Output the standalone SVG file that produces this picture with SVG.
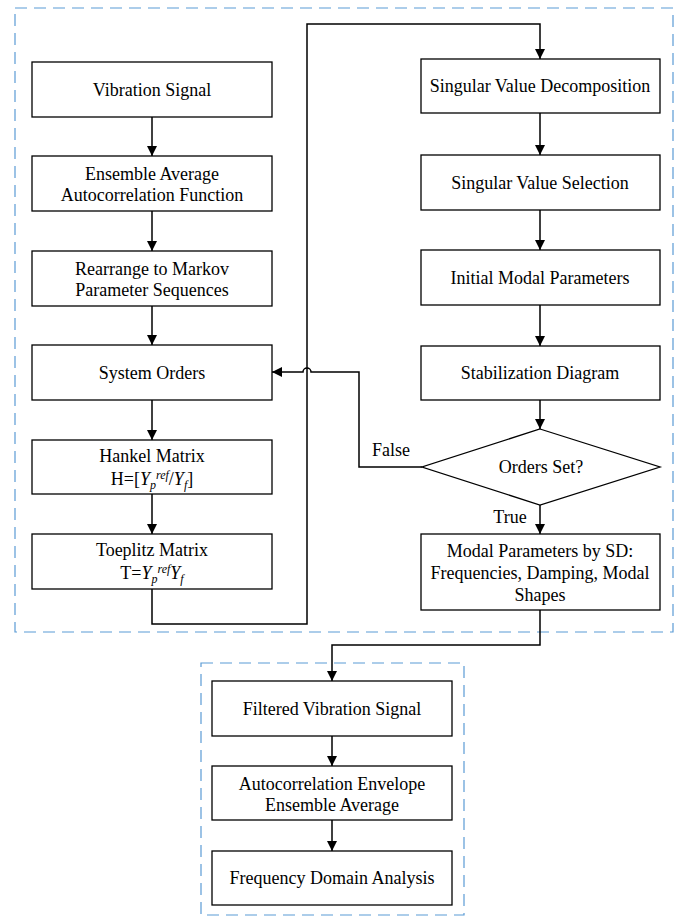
<svg xmlns="http://www.w3.org/2000/svg" width="691" height="917" viewBox="0 0 691 917">
<style>
.b{fill:#fff;stroke:#000;stroke-width:1.3}
.t{font-family:"Liberation Serif","Times New Roman",serif;font-size:18px;fill:#000;text-anchor:middle}
.c{fill:none;stroke:#000;stroke-width:1.5}
.d{fill:none;stroke:#5B9BD5;stroke-width:1.2;stroke-dasharray:12 7}
.i{font-style:italic}
.s{font-style:italic;font-size:12px}
</style>
<defs>
<marker id="a" markerUnits="userSpaceOnUse" markerWidth="10" markerHeight="10" refX="10" refY="5" orient="auto">
<path d="M0,0 L10,5 L0,10 z" fill="#000"/>
</marker>
</defs>
<g id="frames">
<rect class="d" x="15" y="8" width="658" height="624"/>
<rect class="d" x="201" y="663" width="263" height="252"/>
</g>
<g id="n1"><rect class="b" x="32" y="62" width="240" height="55"/><text class="t" x="152" y="95.5">Vibration Signal</text></g>
<g id="n2"><rect class="b" x="32" y="156" width="240" height="55"/><text class="t" x="152" y="180">Ensemble Average</text><text class="t" x="152" y="201">Autocorrelation Function</text></g>
<g id="n3"><rect class="b" x="32" y="251" width="240" height="55"/><text class="t" x="152" y="275">Rearrange to Markov</text><text class="t" x="152" y="296">Parameter Sequences</text></g>
<g id="n4"><rect class="b" x="32" y="345" width="240" height="55"/><text class="t" x="152" y="378.5">System Orders</text></g>
<g id="n5"><rect class="b" x="32" y="440" width="240" height="54"/><text class="t" x="152" y="462">Hankel Matrix</text><text class="t" x="152" y="485">H=[<tspan class="i">Y</tspan><tspan class="s" dy="4">p</tspan><tspan class="s" dy="-10">ref</tspan><tspan dy="6">/</tspan><tspan class="i">Y</tspan><tspan class="s" dy="4">f</tspan><tspan dy="-4">]</tspan></text></g>
<g id="n6"><rect class="b" x="32" y="534" width="240" height="55"/><text class="t" x="152" y="556">Toeplitz Matrix</text><text class="t" x="152" y="579">T=<tspan class="i">Y</tspan><tspan class="s" dy="4">p</tspan><tspan class="s" dy="-10">ref</tspan><tspan class="i" dy="6">Y</tspan><tspan class="s" dy="4">f</tspan></text></g>
<g id="n7"><rect class="b" x="421" y="59" width="239" height="54"/><text class="t" x="540" y="92">Singular Value Decomposition</text></g>
<g id="n8"><rect class="b" x="421" y="155" width="239" height="55"/><text class="t" x="540" y="188.5">Singular Value Selection</text></g>
<g id="n9"><rect class="b" x="421" y="250" width="239" height="55"/><text class="t" x="540" y="283.5">Initial Modal Parameters</text></g>
<g id="n10"><rect class="b" x="421" y="346" width="239" height="54"/><text class="t" x="540" y="379">Stabilization Diagram</text></g>
<g id="n11"><polygon class="b" points="540,429 660,467 540,505 422,467"/><text class="t" x="541" y="473">Orders Set?</text></g>
<g id="n12"><rect class="b" x="421" y="534" width="239" height="76"/><text class="t" x="540" y="557">Modal Parameters by SD:</text><text class="t" x="540" y="579">Frequencies, Damping, Modal</text><text class="t" x="540" y="601">Shapes</text></g>
<g id="n13"><rect class="b" x="212" y="681" width="240" height="55"/><text class="t" x="332" y="714.5">Filtered Vibration Signal</text></g>
<g id="n14"><rect class="b" x="212" y="766" width="240" height="54"/><text class="t" x="332" y="790">Autocorrelation Envelope</text><text class="t" x="332" y="811">Ensemble Average</text></g>
<g id="n15"><rect class="b" x="212" y="851" width="240" height="54"/><text class="t" x="332" y="884">Frequency Domain Analysis</text></g>
<g id="connectors">
<path class="c" d="M152,117 V156" marker-end="url(#a)"/>
<path class="c" d="M152,211 V251" marker-end="url(#a)"/>
<path class="c" d="M152,306 V345" marker-end="url(#a)"/>
<path class="c" d="M152,400 V440" marker-end="url(#a)"/>
<path class="c" d="M152,494 V534" marker-end="url(#a)"/>
<path class="c" d="M152,589 V624 H307 V24 H540 V59" marker-end="url(#a)"/>
<path class="c" d="M540,113 V155" marker-end="url(#a)"/>
<path class="c" d="M540,210 V250" marker-end="url(#a)"/>
<path class="c" d="M540,305 V346" marker-end="url(#a)"/>
<path class="c" d="M540,400 V429" marker-end="url(#a)"/>
<path class="c" d="M540,505 V534" marker-end="url(#a)"/>
<path class="c" d="M422,467 H359 V372 H311 A4,4 0 0 0 303,372 H272" marker-end="url(#a)"/>
<path class="c" d="M540,610 V645 H332 V681" marker-end="url(#a)"/>
<path class="c" d="M332,736 V766" marker-end="url(#a)"/>
<path class="c" d="M332,820 V851" marker-end="url(#a)"/>
<text class="t" x="391" y="456">False</text>
<text class="t" x="510" y="523">True</text>
</g>
</svg>
